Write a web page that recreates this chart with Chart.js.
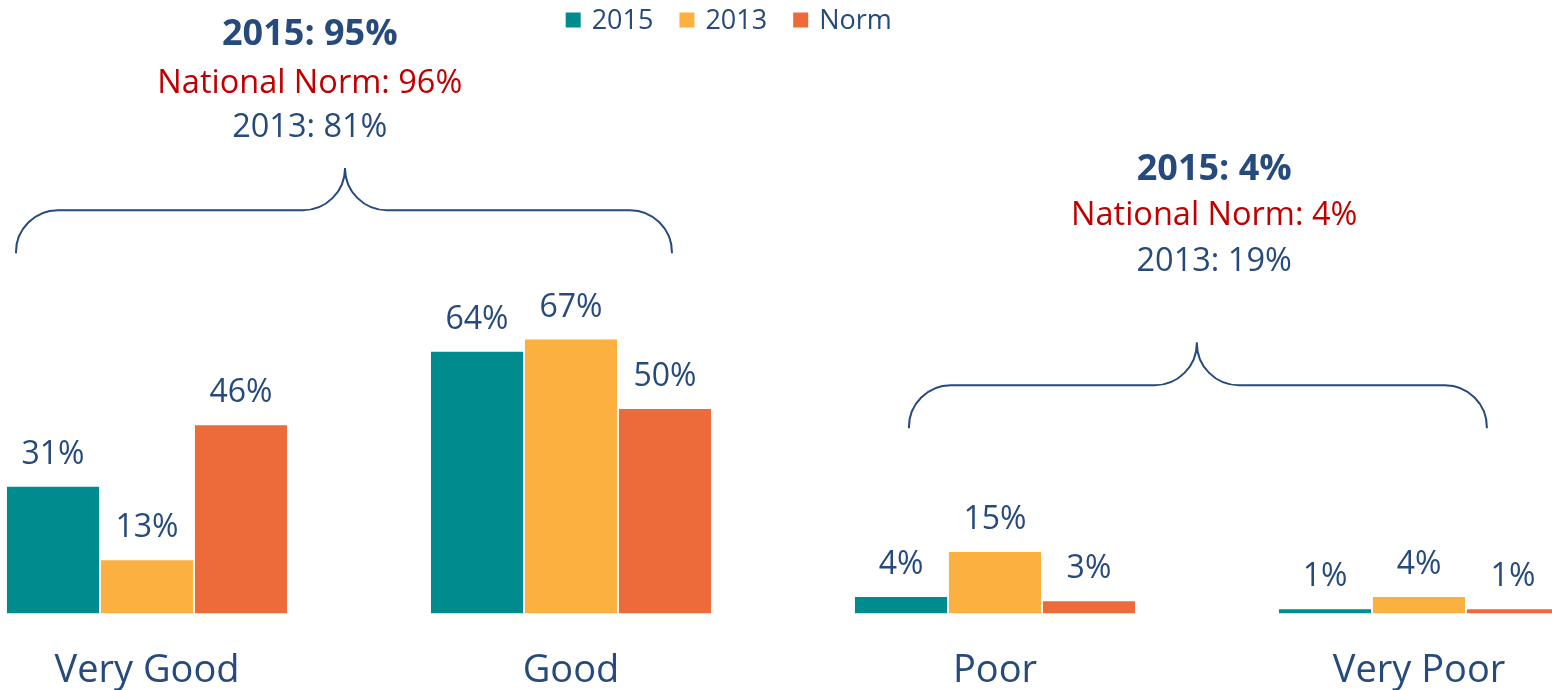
<!DOCTYPE html>
<html>
<head>
<meta charset="utf-8">
<script src="https://cdn.jsdelivr.net/npm/chart.js@4.4.1/dist/chart.umd.min.js"></script>
<style>
  html, body { margin: 0; padding: 0; background: #fff; overflow: hidden; }
  #wrap { position: relative; width: 1552px; height: 690px; overflow: hidden; }
  #box { position: absolute; left: -65px; top: 0; width: 1696px; height: 729px; }
</style>
</head>
<body>
<div id="wrap"><div id="box"><canvas id="chart"></canvas></div></div>
<script>
const categories = ['Very Good', 'Good', 'Poor', 'Very Poor'];
const seriesNames = ['2015', '2013', 'Norm'];
const values2015 = [31, 64, 4, 1];
const values2013 = [13, 67, 15, 4];
const valuesNorm = [46, 50, 3, 1];
const summaryTop = ['2015: 95%', 'National Norm: 96%', '2013: 81%'];
const summaryBottom = ['2015: 4%', 'National Norm: 4%', '2013: 19%'];

const textBlue = '#264a7c';
const normRed = '#c00000';
const fontFamily = "'Open Sans', 'Noto Sans', sans-serif";

// x in category units, y in value units
const summaries = [
    { lines: summaryTop, textX: 0.384, textY: [141.4, 129.6, 118.8], left: -0.309, right: 1.238, tip: 0.467, braceTop: 108.9, braceMid: 98.6, braceEnd: 88.1 },
    { lines: summaryBottom, textX: 2.517, textY: [108.5, 97.3, 86.0], left: 1.797, right: 3.160, tip: 2.476, braceTop: 66.3, braceMid: 55.8, braceEnd: 45.3 },
];

const xAt = (scale, v) => {
    const a = scale.getPixelForValue(0);
    const b = scale.getPixelForValue(1);
    return a + (b - a) * v;
};

const valueLabelsPlugin = {
    id: 'valueLabels',
    afterDatasetsDraw(chart) {
        const { ctx } = chart;
        ctx.save();
        ctx.font = `32px ${fontFamily}`;
        ctx.fillStyle = textBlue;
        ctx.textAlign = 'center';
        ctx.textBaseline = 'middle';
        chart.data.datasets.forEach((ds, di) => {
            chart.getDatasetMeta(di).data.forEach((bar, i) => {
                ctx.fillText(ds.data[i] + '%', bar.x, bar.y - 32);
            });
        });
        ctx.restore();
    },
};

const summaryPlugin = {
    id: 'summaryBraces',
    afterDraw(chart) {
        const { ctx } = chart;
        const xs = chart.scales.x;
        const ys = chart.scales.y;
        ctx.save();
        summaries.forEach((s) => {
            const tx = xAt(xs, s.textX);
            s.lines.forEach((line, i) => {
                if (i === 0) {
                    ctx.font = `bold 36px ${fontFamily}`;
                    ctx.fillStyle = textBlue;
                } else if (i === 1) {
                    ctx.font = `32.5px ${fontFamily}`;
                    ctx.fillStyle = normRed;
                } else {
                    ctx.font = `32.5px ${fontFamily}`;
                    ctx.fillStyle = textBlue;
                }
                ctx.textAlign = 'center';
                ctx.textBaseline = 'middle';
                ctx.fillText(line, tx, ys.getPixelForValue(s.textY[i]));
            });

            const xl = xAt(xs, s.left);
            const xr = xAt(xs, s.right);
            const xt = xAt(xs, s.tip);
            const yTop = ys.getPixelForValue(s.braceTop);
            const yMid = ys.getPixelForValue(s.braceMid);
            const yEnd = ys.getPixelForValue(s.braceEnd);
            const r = 42;
            ctx.strokeStyle = textBlue;
            ctx.lineWidth = 2;
            ctx.beginPath();
            ctx.moveTo(xl, yEnd);
            ctx.arcTo(xl, yMid, xl + r, yMid, r);
            ctx.lineTo(xt - r, yMid);
            ctx.arcTo(xt, yMid, xt, yTop, r);
            ctx.lineTo(xt, yTop);
            ctx.moveTo(xt, yTop);
            ctx.arcTo(xt, yMid, xt + r, yMid, r);
            ctx.lineTo(xr - r, yMid);
            ctx.arcTo(xr, yMid, xr, yEnd, r);
            ctx.lineTo(xr, yEnd);
            ctx.stroke();
        });
        ctx.restore();
    },
};

const legendPlugin = {
    id: 'topLegend',
    afterDraw(chart) {
        const { ctx, chartArea } = chart;
        ctx.save();
        ctx.font = `27px ${fontFamily}`;
        ctx.textBaseline = 'middle';
        ctx.textAlign = 'left';
        const box = 15, gapText = 11, gapItem = 26;
        const items = chart.data.datasets.map((ds) => ({ label: ds.label, color: ds.backgroundColor, w: ctx.measureText(ds.label).width }));
        const total = items.reduce((sum, it) => sum + box + gapText + it.w, 0) + gapItem * (items.length - 1);
        let x = chartArea.left + chartArea.width * 0.468 - total / 2;
        const y = 20;
        items.forEach((it) => {
            ctx.fillStyle = it.color;
            ctx.fillRect(x, y - box / 2, box, box);
            x += box + gapText;
            ctx.fillStyle = textBlue;
            ctx.fillText(it.label, x, y + 1);
            x += it.w + gapItem;
        });
        ctx.restore();
    },
};

const barStyle = { categoryPercentage: 0.665, barPercentage: 0.98, borderWidth: 0 };

new Chart(document.getElementById('chart'), {
    type: 'bar',
    data: {
        labels: categories,
        datasets: [
            { label: seriesNames[0], data: values2015, backgroundColor: '#008b8f', ...barStyle },
            { label: seriesNames[1], data: values2013, backgroundColor: '#fbb040', ...barStyle },
            { label: seriesNames[2], data: valuesNorm, backgroundColor: '#ed6a3a', ...barStyle },
        ],
    },
    options: {
        responsive: true,
        maintainAspectRatio: false,
        animation: false,
        events: [],
        layout: { padding: 0 },
        scales: {
            x: {
                offset: true,
                grid: { display: false, drawTicks: false },
                border: { display: false },
                ticks: { color: textBlue, font: { family: fontFamily, size: 38 }, padding: 35 },
            },
            y: { display: false, min: 0, max: 150 },
        },
        plugins: {
            legend: { display: false },
            tooltip: { enabled: false },
        },
    },
    plugins: [valueLabelsPlugin, summaryPlugin, legendPlugin],
});
</script>
</body>
</html>
